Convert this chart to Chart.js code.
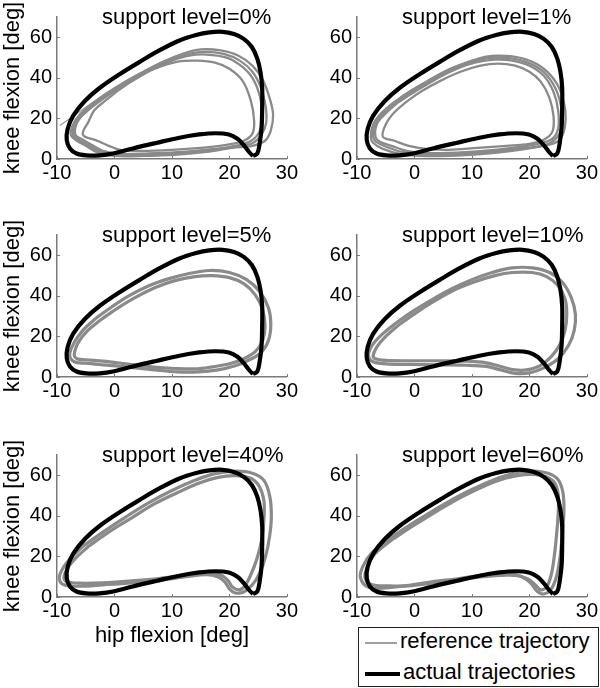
<!DOCTYPE html>
<html>
<head>
<meta charset="utf-8">
<script src="https://cdn.jsdelivr.net/npm/chart.js@4.4.1/dist/chart.umd.min.js"></script>
<style>
  body { margin: 0; background: #fff; }
  #wrap { position: relative; width: 600px; height: 688px; overflow: hidden; }
  #wrap canvas { position: absolute; }
  #legend {
    position: absolute; left: 358px; top: 627px; width: 239px; height: 58px;
    border: 1px solid #222; background: #fff;
    font: 22px "Liberation Sans", Arial, Helvetica, sans-serif; color: #000;
  }
  #legend .row { position: absolute; left: 0; height: 26px; line-height: 26px; white-space: nowrap; }
  #legend .swatch { position: absolute; left: 6px; }
  #legend .txt { position: absolute; left: 41px; top: 0; }
</style>
</head>
<body>
<div id="wrap">
  <canvas id="p0" width="300" height="219" style="left:0px;top:0px"></canvas>
  <canvas id="p1" width="300" height="219" style="left:300px;top:0px"></canvas>
  <canvas id="p2" width="300" height="219" style="left:0px;top:218px"></canvas>
  <canvas id="p3" width="300" height="219" style="left:300px;top:218px"></canvas>
  <canvas id="p4" width="300" height="219" style="left:0px;top:438px"></canvas>
  <canvas id="p5" width="300" height="219" style="left:300px;top:438px"></canvas>
  <div id="legend">
    <div class="row" style="top:0px">
      <div class="swatch" style="top:14px;width:32px;height:2px;background:#a0a0a0"></div>
      <span class="txt">reference trajectory</span>
    </div>
    <div class="row" style="top:31px">
      <div class="swatch" style="top:13px;width:35px;height:4px;background:#000"></div>
      <span class="txt" style="left:44px">actual trajectories</span>
    </div>
  </div>
</div>
<script>
const FONT = '"Liberation Sans", Arial, Helvetica, sans-serif'
const GRAY = '#8a8a8a'
const AXIS = '#7a7a7a'

const panelTitles = ['support level=0%', 'support level=1%', 'support level=5%',
  'support level=10%', 'support level=40%', 'support level=60%']
const xTickValues = [-10, 0, 10, 20, 30]
const yTickValues = [0, 20, 40, 60]

// thick black loop, [hip, knee] in deg (same in every panel)
const actualLoop = [[24.1,1.5],[24.85,2.7],[25.26,7.6],[25.6,15.6],[25.7,25.3],[25.7,35],[25.4,43],
  [24.85,49.5],[23.9,55.2],[22.5,59.2],[20.8,61.6],[18.8,62.7],[16.5,62.4],[14.2,61.1],[11.3,58.4],
  [7.8,53.5],[4.4,47.9],[0.9,41.8],[-2.6,35],[-5.2,28.5],[-7.2,21.3],[-8.15,14.8],[-8.3,9.2],
  [-7.75,5.2],[-6.6,2.7],[-4.9,1.8],[-2.6,1.8],[-0.25,2.7],[3.2,5.2],[7.25,7.9],[11.3,10.5],
  [14.75,12.1],[17.6,12.7],[19.9,12.1],[21.4,10],[22.5,6.8],[23.5,3.2],[24.1,1.5]]

// support level 0%
const ref0Outer = [[-7.6,12],[-7.2,17],[-6,22],[-4,27],[-1.5,32],[1.5,37.5],[5,43],[8.5,48],[12,52],
  [15,54],[18.5,53.5],[21.5,51],[24,46],[25.8,39],[27,30],[27.6,22],[27.2,14],[26.2,9],[24,6.5],
  [20.5,5.5],[16,3.5],[11,2.2],[5,1.5],[0,1.5],[-2.8,3],[-5,6.5],[-6.8,9.5],[-7.6,12]]
const ref0Wide = [[-7.2,12],[-6.9,17.5],[-5.5,22.5],[-3.4,27.5],[-0.8,32.8],[2.2,38],[5.7,43.5],
  [9.2,48.3],[12.5,51.5],[15.5,52.8],[19,51.8],[21.8,48.5],[24,43],[25.5,35],[26.3,26],[26.4,18],
  [25.6,12],[24,7.8],[20.8,6],[16.5,4.2],[11.5,2.9],[5.5,2.2],[0.5,2],[-2.4,3.5],[-4.5,6.8],
  [-6.2,9.5],[-7.2,12]]
const ref0Mid = [[-6.8,12],[-6.5,18],[-5,23],[-2.8,28],[0,33.5],[3,38.5],[6.5,44],[10,48.5],[13,51],
  [16,51.5],[19.5,50],[22,46],[24,40],[25.3,31],[25.7,22],[25.3,14],[23.8,9],[21,6.5],[17,4.8],
  [12,3.5],[6,2.8],[1,2.5],[-2,4],[-4,7],[-5.5,9.5],[-6.8,12]]
const ref0Inner = [[-5.5,12],[-4.5,18.5],[-3.5,24],[-1.5,29],[1,34.5],[4,40],[7,44.5],[11,48],
  [14.5,48.5],[17.5,47.5],[20,44.5],[22.3,38.5],[23.7,29],[24.3,19],[24,12.5],[22.5,9],[19.5,7],
  [15,5.5],[10,4.5],[5,4],[1,4.5],[-1,6.5],[-3,9],[-5.5,12]]
const ref0Stray = [[-9.5,16.5],[-8,19.5],[-6,23.5],[-4,27.5],[-2,31.5],[0.5,36]]

// support level 1%
const ref1Outer = [[-7.6,11],[-7.2,17],[-5.8,22.5],[-3.8,27.5],[-1,33],[2,38],[5.5,43.5],[9,47.5],
  [12.5,50.5],[16,50.8],[19.5,49],[22.5,44.5],[24.8,37],[26,28],[26.3,20],[25.8,12],[24.5,8],
  [21.5,6],[17,4],[12,2.5],[6,1.5],[1,1.5],[-2.5,2.5],[-5.5,5],[-7.2,8],[-7.6,11]]
const ref1Wide = [[-7.2,11],[-6.9,17.2],[-5.4,22.5],[-3.3,27.8],[-0.5,33],[2.7,38.5],[6.2,43.8],
  [9.7,47.5],[13.2,49.8],[16.5,49.7],[19.7,47.5],[22.5,42.8],[24.5,35],[25.5,26],[25.7,17.5],
  [24.9,11],[22.8,7],[17,4.8],[12,3.2],[6,2.2],[1,2.2],[-2.2,3.5],[-4.7,5.8],[-6.6,8.3],[-7.2,11]]
const ref1Mid = [[-6.8,11],[-6.5,17.5],[-5,22.5],[-2.8,28],[0,33],[3.5,39],[7,44],[10.5,47.5],
  [14,49],[17,48.5],[20,46],[22.5,41],[24.2,33],[25,24],[25,15],[24,10],[21.5,7.5],[17,5.5],
  [12,4],[6,3],[1,3],[-2,4.5],[-4,6.5],[-6,8.5],[-6.8,11]]
const ref1Inner = [[-5.5,11],[-5,17],[-3.5,23],[-1.5,28],[1,33],[4.5,38.5],[8,43],[11.5,46],
  [14.5,47],[17.5,46],[20,43],[22,38],[23.5,30],[24.2,21],[24,13.5],[22.5,9.5],[20,7.5],[16,6.5],
  [11,5.5],[6,4.5],[2,5],[-1,6.5],[-3.5,9],[-5.5,11]]

// support level 5%
const ref5Outer = [[-7.8,11],[-7,17],[-5.5,23],[-3.2,29],[-0.5,34.5],[2.5,40],[6,45],[9.5,48.5],
  [13,51],[16.5,52.5],[20,51.5],[23,48],[25.3,42],[26.8,34],[27.2,26],[26.8,18],[25.5,12],
  [23.5,8.5],[21,5.5],[18,3.5],[14.5,2.5],[11,2.5],[7,3.5],[2,5],[-2,6],[-5,6.8],[-7,7.5],[-7.8,11]]
const ref5Inner = [[-7,11],[-6.3,17],[-4.8,22.5],[-2.5,28],[0.3,33.5],[3.5,39],[7,44],[10.5,47.5],
  [14,49.5],[17,50],[20,49],[22.5,46],[24.5,40.5],[25.8,33],[26.2,25],[25.8,18],[24.5,12.5],
  [22.5,9],[20,6.5],[17,5],[14,4],[10.5,4.2],[6.5,5],[2,6.5],[-2,7.8],[-5,8.5],[-6.5,9],[-7,11]]

// support level 10%
const ref10Outer = [[-8,10.5],[-7.5,15],[-6,20],[-3.5,26],[-0.5,32],[3,38],[6.5,43.5],[10,48],
  [13.5,51.5],[17,53.8],[20.5,53.8],[23.5,51.5],[25.8,46.5],[27.3,39],[28,31],[27.8,23],[26.8,15.5],
  [25,9],[22.5,4.5],[20,2],[17.5,1.8],[15,3.5],[12.5,5.2],[9,5.8],[4,6],[-1,6.2],[-5,6.5],
  [-7.2,7.5],[-8,10.5]]
const ref10Inner = [[-7.2,10.5],[-6.5,15],[-5,20],[-2.8,25.5],[0.2,31.5],[3.5,37.5],[7,43],
  [10.5,47],[14,50],[17,51.5],[20.5,51.5],[23,49.5],[25,45],[26.2,38.5],[26.5,31],[26.2,23],
  [25.3,16],[23.8,10],[21.8,5.5],[19.5,3.5],[17.5,3.5],[15,5.2],[12.5,7],[9,7.8],[4,8],[-1,8],
  [-5,8.2],[-6.8,9],[-7.2,10.5]]

// support level 40%
const ref40Outer = [[-9.6,9],[-9.2,13],[-8,18],[-5.5,25],[-2,32],[2,39.5],[6,46.5],[10,52.5],
  [14,57.5],[17.5,60.8],[21,62],[24,61],[26,57.5],[27,50],[27.3,40],[27,30],[26.3,20],[25.3,12],
  [24,6],[22.5,2.5],[21,2],[20,4],[19.2,7.5],[18,10],[16,11],[12.5,10],[8,8.3],[3,7],[-2,6],
  [-6,5.3],[-8.8,6],[-9.6,9]]
const ref40Inner = [[-8.8,9.5],[-8.2,14],[-6.8,19],[-4.5,25],[-1,32],[3,39],[7,46],[11,51.5],
  [14.5,56],[18,59],[21,59.8],[23.7,58.5],[25.2,54.5],[26,47.5],[26,38],[25.6,28],[24.8,19],
  [23.8,11.5],[22.7,5.5],[21.7,3.5],[20.5,5],[19.8,8],[18.5,10.8],[16,12],[12.5,11],[8,9.2],
  [3,8],[-2,7],[-6,6.8],[-8.2,7.5],[-8.8,9.5]]

// support level 60%
const ref60Outer = [[-9.4,9.5],[-9,15],[-7.5,21.5],[-4.5,28.5],[-0.5,36],[3.5,43],[7.5,49.5],
  [11.5,55],[15.5,59.5],[19,61.8],[22.5,61.5],[24.8,58.5],[25.8,52],[26,42],[25.7,30],[25.3,19],
  [24.7,10],[23.8,4],[22.5,1.5],[21.3,3],[20.2,7],[18.5,10.2],[16,11.5],[12,10.8],[7.5,9],[3,7.5],
  [-1,5.8],[-5,4.5],[-8,4.8],[-9.4,9.5]]
const ref60Inner = [[-8.6,9.5],[-8.2,15],[-6.8,21.5],[-3.8,28.5],[0,35.5],[4,42.5],[8,49],
  [12,54.5],[15.8,58.5],[19.2,60.3],[22.3,59.8],[24.2,57],[25,51],[25,41],[24.7,30],[24.3,19.5],
  [23.8,11],[23,5],[22,3.5],[21,6],[19.8,8.8],[18,10.5],[16,10.8],[12,10],[7.5,8.3],[3,6.8],
  [-1,5.5],[-4.5,5.5],[-7.5,6.2],[-8.6,9.5]]

const referenceLoops = [
  [ref0Outer, ref0Wide, ref0Mid, ref0Inner],
  [ref1Outer, ref1Wide, ref1Mid, ref1Inner],
  [ref5Outer, ref5Inner],
  [ref10Outer, ref10Inner],
  [ref40Outer, ref40Inner],
  [ref60Outer, ref60Inner]
]
const referenceStrays = [[ref0Stray], [], [], [], [], []]

const toPoints = arr => arr.map(p => ({x: p[0], y: p[1]}))

// restart a closed loop at point k so the seam falls on a straight stretch
function loopFrom(loop, k) {
  const open = loop.slice(0, -1)
  const out = open.slice(k).concat(open.slice(0, k))
  out.push(out[0])
  return out
}

// title text sits inside the top of each axes box
const panelTitle = {
  id: 'panelTitle',
  afterDraw(chart, args, opts) {
    const {ctx, chartArea} = chart
    ctx.save()
    ctx.font = '22px ' + FONT
    ctx.fillStyle = '#000'
    ctx.textAlign = 'left'
    ctx.textBaseline = 'alphabetic'
    ctx.fillText(opts.text, chartArea.left + 45, chartArea.top + 7)
    ctx.restore()
  }
}

// short tick marks pointing into the plot, matlab style
const inwardTicks = {
  id: 'inwardTicks',
  afterDraw(chart) {
    const {ctx, chartArea, scales} = chart
    ctx.save()
    ctx.strokeStyle = AXIS
    ctx.lineWidth = 1
    ctx.beginPath()
    xTickValues.forEach(v => {
      const px = Math.round(scales.x.getPixelForValue(v)) + 0.5
      ctx.moveTo(px, chartArea.bottom)
      ctx.lineTo(px, chartArea.bottom - 3)
    })
    yTickValues.forEach(v => {
      const py = Math.round(scales.y.getPixelForValue(v)) + 0.5
      ctx.moveTo(chartArea.left, py)
      ctx.lineTo(chartArea.left + 3, py)
    })
    ctx.stroke()
    ctx.restore()
  }
}

function makePanel(i) {
  const leftCol = i % 2 === 0
  const thin = i < 2

  const datasets = [{
    label: 'actual trajectories',
    data: toPoints(actualLoop),
    borderColor: '#000',
    borderWidth: 4.2,
    order: 0
  }]
  referenceLoops[i].forEach(loop => {
    datasets.push({
      label: 'reference trajectory',
      data: toPoints(loopFrom(loop, 3)),
      borderColor: GRAY,
      borderWidth: thin ? 2.3 : 3.2,
      order: 1
    })
  })
  referenceStrays[i].forEach(line => {
    datasets.push({
      label: 'reference trajectory',
      data: toPoints(line),
      borderColor: '#9a9a9a',
      borderWidth: 1.2,
      order: 1
    })
  })
  datasets.forEach(d => Object.assign(d, {showLine: true, pointRadius: 0, tension: 0.35, fill: false}))

  new Chart(document.getElementById('p' + i), {
    type: 'scatter',
    data: {datasets},
    options: {
      responsive: false,
      animation: false,
      events: [],
      layout: {padding: {top: 15, right: 12, left: 0, bottom: 0}},
      plugins: {
        legend: {display: false},
        tooltip: {enabled: false},
        panelTitle: {text: panelTitles[i]}
      },
      scales: {
        x: {
          type: 'linear', min: -10, max: 30,
          grid: {display: false, drawTicks: false},
          border: {display: true, color: AXIS, width: 1.5},
          afterBuildTicks: s => { s.ticks = xTickValues.map(v => ({value: v})) },
          afterFit: s => { s.height = 60 },
          ticks: {color: '#000', font: {family: FONT, size: 20}, padding: 2, maxRotation: 0, autoSkip: false},
          title: {
            display: i === 4, text: 'hip flexion [deg]', color: '#000',
            font: {family: FONT, size: 22}, padding: {top: 0, bottom: 8}
          }
        },
        y: {
          type: 'linear', min: 0, max: 70,
          grid: {display: false, drawTicks: false},
          border: {display: true, color: AXIS, width: 1.5},
          afterBuildTicks: s => { s.ticks = yTickValues.map(v => ({value: v})) },
          afterFit: s => { s.width = 57 },
          ticks: {color: '#000', font: {family: FONT, size: 20}, padding: 5},
          title: {
            display: leftCol, text: 'knee flexion [deg]', color: '#000',
            font: {family: FONT, size: 22}, padding: {top: 0, bottom: 0}
          }
        }
      }
    },
    plugins: [panelTitle, inwardTicks]
  })
}

for (let i = 0; i < 6; i++) makePanel(i)
</script>
</body>
</html>
